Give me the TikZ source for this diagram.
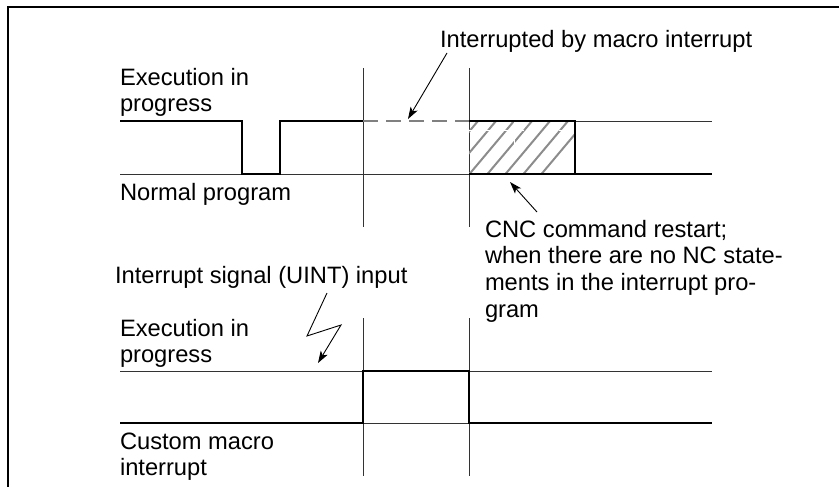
\documentclass[tikz,border=0pt]{standalone}
\usepackage{fontspec}
\setmainfont{Liberation Sans}
\usetikzlibrary{arrows.meta}
\begin{document}
\begin{tikzpicture}[x=1pt,y=-1pt,
  lbl/.style={inner sep=0pt, outer sep=0pt, align=left, anchor=base west,
    font=\fontsize{23.7}{26}\selectfont},
  frame/.style={line width=1.6pt, black},
  guide/.style={line width=0.9pt, black!80},
  sig/.style={line width=2.2pt, black},
  dashsig/.style={line width=1.6pt, black!50, dash pattern=on 15pt off 8pt},
  hatch/.style={line width=2pt, black!45},
  ptr/.style={line width=0.9pt, black, -{Stealth[length=12pt,width=8pt,inset=3pt]}}
]
\useasboundingbox (0,0) rectangle (839,487);
\draw[frame] (8,487) -- (8,7) -- (839,7);

% ---------- upper diagram ----------
\draw[guide] (363,68) -- (363,227);
\draw[guide] (469,68) -- (469,227);
\draw[guide] (120,174) -- (469,174);
\draw[guide] (575,121) -- (712,121);
\begin{scope}
  \clip (469,121) rectangle (575,174);
  \foreach \k in {-3,...,6}
    \draw[hatch] ({478+18*\k-44.5},174) -- ({478+18*\k},121);
  \draw[white, line width=0.6pt, dash pattern=on 10pt off 5pt] (469,130) -- (575,130);
  \draw[white, line width=0.6pt, dash pattern=on 10pt off 5pt] (514,121) -- (514,174);
\end{scope}
\draw[sig] (120,121) -- (242,121) -- (242,174) -- (280,174) -- (280,121) -- (363,121);
\draw[dashsig] (363,121) -- (469,121);
\draw[sig] (469,121) -- (575,121) -- (575,174) -- (712,174);
\draw[sig] (469,174) -- (575,174);

\node[lbl] (exec1) at (120,112) {Execution in\\progress};
\node[lbl] (normal) at (120,200) {Normal program};
\node[lbl] (intr) at (440,48) {Interrupted by macro interrupt};
\node[lbl, font=\fontsize{23.7}{26.6}\selectfont] (cnc) at (485,317) {CNC command restart;\\when there are no NC state-\\ments in the interrupt pro-\\gram};

\coordinate (a1s) at (447,53);
\coordinate (a1e) at (408,119);
\draw[ptr] (a1s) -- (a1e);
\coordinate (a2s) at (537,212);
\coordinate (a2e) at (510,182);
\draw[ptr] (a2s) -- (a2e);

% ---------- lower diagram ----------
\draw[guide] (363,318) -- (363,476);
\draw[guide] (469,318) -- (469,476);
\draw[guide] (120,371) -- (712,371);
\draw[guide] (120,423) -- (712,423);
\draw[sig] (120,423) -- (363,423) -- (363,371) -- (469,371) -- (469,423) -- (712,423);

\node[lbl] (uint) at (115,283) {Interrupt signal (UINT) input};
\node[lbl] (exec2) at (120,362) {Execution in\\progress};
\node[lbl] (custom) at (120,475) {Custom macro\\interrupt};

\coordinate (z0) at (327,293);
\coordinate (z1) at (307,336);
\coordinate (z2) at (341,325);
\coordinate (z3) at (318,363);
\draw[ptr] (z0) -- (z1) -- (z2) -- (z3);
\end{tikzpicture}
\end{document}
